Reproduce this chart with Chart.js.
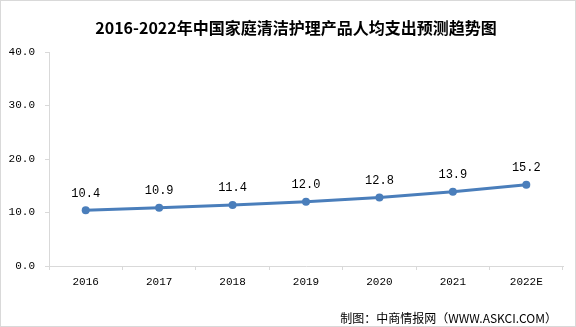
<!DOCTYPE html>
<html>
<head>
<meta charset="utf-8">
<script src="https://cdn.jsdelivr.net/npm/chart.js@4/dist/chart.umd.min.js"></script>
<style>
  html, body { margin: 0; padding: 0; background: #fff; }
  #wrap { width: 576px; height: 327px; position: relative; }
</style>
</head>
<body>
<div id="wrap"><canvas id="c"></canvas></div>
<script>
// data
const years = ['2016', '2017', '2018', '2019', '2020', '2021', '2022E'];
const spending = [10.4, 10.9, 11.4, 12.0, 12.8, 13.9, 15.2];
const yTicks = [0, 10, 20, 30, 40];

const titleText = '2016-2022年中国家庭清洁护理产品人均支出预测趋势图';
const sourceText = '制图：中商情报网（WWW.ASKCI.COM）';

const lineColor = '#4a7ebb';
const axisColor = '#d9d9d9';
const numFont = 'Liberation Mono, monospace';

// title, labels above the points, source line, frame
const extras = {
  id: 'extras',
  afterDatasetsDraw(chart) {
    const ctx = chart.ctx;
    const meta = chart.getDatasetMeta(0);
    ctx.save();
    ctx.fillStyle = '#000';
    ctx.font = '12px ' + numFont;
    ctx.textAlign = 'center';
    ctx.textBaseline = 'middle';
    meta.data.forEach(function(pt, i) {
      ctx.fillText(spending[i].toFixed(1), pt.x, pt.y - 17);
    });
    ctx.restore();
  },
  afterDraw(chart) {
    const ctx = chart.ctx;
    ctx.save();
    ctx.fillStyle = '#000';
    ctx.textBaseline = 'middle';
    ctx.textAlign = 'center';
    ctx.font = 'bold 16px "Noto Sans CJK SC", sans-serif';
    ctx.fillText(titleText, 296, 28);
    ctx.font = '12px "Noto Sans CJK SC", sans-serif';
    ctx.textAlign = 'right';
    ctx.fillText(sourceText, 557, 318);
    ctx.strokeStyle = axisColor;
    ctx.lineWidth = 1;
    ctx.strokeRect(0.5, 0.5, chart.width - 1, chart.height - 1);
    ctx.restore();
  }
};

let c = document.getElementById('c').getContext('2d');
new Chart(c, {
  type: 'line',
  data: {
    labels: years,
    datasets: [{
      data: spending,
      borderColor: lineColor,
      backgroundColor: lineColor,
      borderWidth: 3,
      pointRadius: 4,
      pointBackgroundColor: lineColor,
      pointBorderWidth: 0,
      tension: 0
    }]
  },
  options: {
    responsive: true,
    maintainAspectRatio: false,
    animation: false,
    layout: { padding: { left: 0, right: 13, top: 52, bottom: 31 } },
    plugins: {
      legend: { display: false },
      tooltip: { enabled: false },
      title: { display: false }
    },
    scales: {
      x: {
        offset: true,
        afterFit(scale) { scale.height = 30; },
        grid: { display: true, drawOnChartArea: false, offset: true, tickLength: 4, color: axisColor },
        border: { color: axisColor },
        ticks: { color: '#000', font: { family: numFont, size: 11 }, padding: 5, maxRotation: 0 }
      },
      y: {
        min: 0,
        max: 40,
        afterFit(scale) { scale.width = 49; },
        afterBuildTicks(scale) { scale.ticks = yTicks.map(v => ({ value: v })); },
        grid: { display: true, drawOnChartArea: false, tickLength: 4, color: axisColor },
        border: { color: axisColor },
        ticks: {
          color: '#000',
          font: { family: numFont, size: 11 },
          padding: 10,
          callback: v => v.toFixed(1)
        }
      }
    }
  },
  plugins: [extras]
});
</script>
</body>
</html>
